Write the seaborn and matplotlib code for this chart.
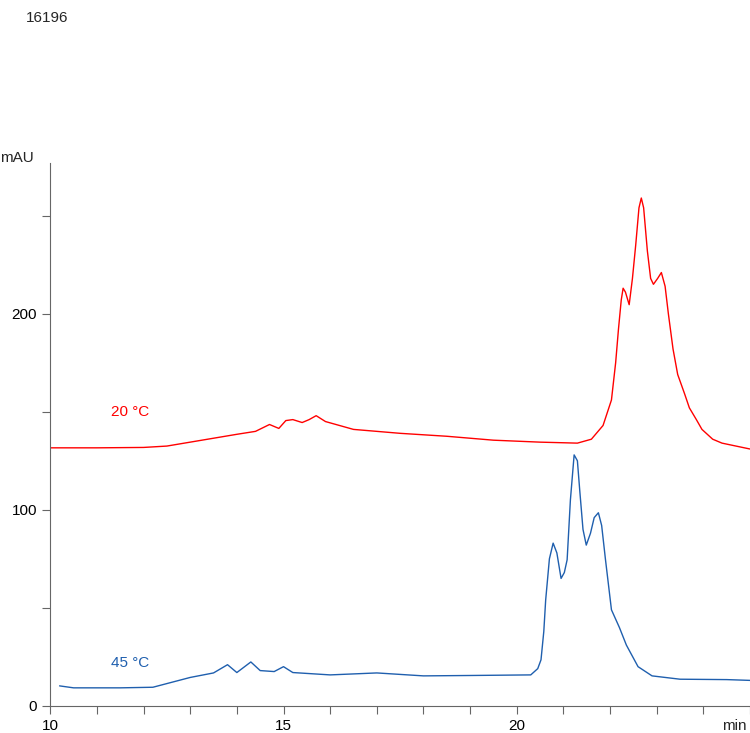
import numpy as np
import matplotlib.pyplot as plt
import matplotlib.ticker as ticker
import seaborn as sns

# retention time (min) / absorbance (mAU)
t_20 = [10.0, 11.0, 12.0, 12.5, 13.0, 13.5, 14.0, 14.4, 14.7, 14.9, 15.05, 15.2, 15.4, 15.55, 15.7, 15.9,
        16.5, 17.5, 18.5, 19.5, 20.5, 21.3, 21.6, 21.85, 22.03, 22.12, 22.18, 22.24, 22.28, 22.33, 22.41,
        22.48, 22.55, 22.62, 22.67, 22.72, 22.8, 22.87, 22.93, 23.02, 23.1, 23.18, 23.25, 23.35, 23.45,
        23.6, 23.7, 23.85, 23.97, 24.2, 24.4, 25.0]
a_20 = [131.6, 131.6, 131.8, 132.5, 134.5, 136.5, 138.5, 140, 143.5, 141.5, 145.5, 146, 144.5, 146, 148, 145,
        141, 139, 137.5, 135.5, 134.5, 134, 136, 143, 156, 175, 192, 207, 213, 211, 204.6,
        218, 235, 254, 259, 254, 232, 218, 215, 218, 221, 214, 200, 182, 169,
        159, 152, 146, 141, 136, 134, 131]
t_45 = [10.2, 10.5, 11.0, 11.5, 12.2, 12.6, 13.0, 13.5, 13.8, 14.0, 14.3, 14.5, 14.8, 15.0, 15.2, 16.0,
        17.0, 18.0, 19.0, 20.3, 20.45, 20.52, 20.58, 20.62, 20.7, 20.78, 20.86, 20.95, 21.02, 21.08, 21.15,
        21.23, 21.3, 21.35, 21.42, 21.49, 21.58, 21.66, 21.75, 21.82, 21.9, 22.03, 22.2, 22.35, 22.6, 22.9,
        23.5, 24.5, 25.0]
a_45 = [10.2, 9.2, 9.2, 9.2, 9.5, 12, 14.5, 16.8, 21, 17, 22.4, 18, 17.5, 20, 17, 15.8,
        16.8, 15.3, 15.5, 15.8, 19, 23.5, 38, 54, 75, 83, 78, 65, 68, 74.5, 105,
        128, 125, 110, 90, 82, 88, 96, 98.5, 92, 75, 49, 40, 31, 20, 15.3,
        13.6, 13.4, 13.0]

sns.set_theme(style="ticks")
plt.rcParams['font.family'] = ['Liberation Sans', 'DejaVu Sans']
fig = plt.figure(figsize=(7.5, 7.33), dpi=100)
ax = fig.add_axes([0.067, 0.037, 0.933, 0.741])

sns.lineplot(x=t_20, y=a_20, ax=ax, color="#ff0000", linewidth=1.0, estimator=None, sort=False)
sns.lineplot(x=t_45, y=a_45, ax=ax, color="#1f5fae", linewidth=1.0, estimator=None, sort=False)

ax.set_xlim(10, 25)
ax.set_ylim(0, 277)
ax.xaxis.set_major_locator(ticker.FixedLocator([10, 15, 20]))
ax.xaxis.set_minor_locator(ticker.MultipleLocator(1))
ax.yaxis.set_major_locator(ticker.FixedLocator([0, 100, 200]))
ax.yaxis.set_minor_locator(ticker.MultipleLocator(50))
ax.tick_params(which="both", direction="out", color="#666666", labelsize=11, labelcolor="black",
               length=6, width=0.8, left=True, bottom=True)
for side in ["top", "right"]:
    ax.spines[side].set_visible(False)
for side in ["left", "bottom"]:
    ax.spines[side].set_color("#666666")
    ax.spines[side].set_linewidth(0.8)

ax.text(11.3, 150, "20 °C", color="#ff0000", fontsize=11, va="center")
ax.text(11.3, 22, "45 °C", color="#1f5fae", fontsize=11, va="center")
fig.text(0.0, 0.775, "mAU", fontsize=11, va="bottom")
fig.text(0.995, 0.0, "min", fontsize=11, ha="right", va="bottom")
fig.text(0.035, 0.985, "16196", fontsize=11, va="top")

fig.savefig("out.png", dpi=100)
